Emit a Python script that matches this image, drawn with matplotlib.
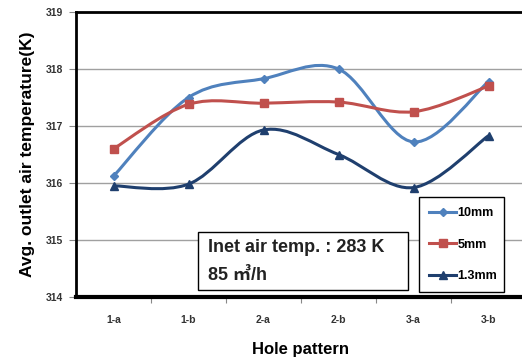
"""Avg. outlet air temperature by hole pattern."""

import matplotlib.pyplot as plt
import numpy as np
from matplotlib.lines import Line2D
from matplotlib.patches import PathPatch, Rectangle
from matplotlib.path import Path

patterns = ["1-a", "1-b", "2-a", "2-b", "3-a", "3-b"]
temp_10mm = [316.12, 317.50, 317.83, 318.00, 316.72, 317.78]
temp_5mm = [316.60, 317.38, 317.40, 317.42, 317.25, 317.70]
temp_1p3mm = [315.95, 315.98, 316.93, 316.50, 315.92, 316.83]

series = [
    ("10mm", temp_10mm, "#4f81bd", "D", 4),
    ("5mm", temp_5mm, "#c0504d", "s", 6),
    ("1.3mm", temp_1p3mm, "#1f3f6e", "^", 6),
]

plt.rcParams["font.family"] = ["Liberation Sans", "Noto Sans CJK KR", "DejaVu Sans"]


def smooth_path(xs, ys):
    # Excel-style smoothed line: Catmull-Rom as cubic bezier segments
    pts = np.column_stack([xs, ys]).astype(float)
    padded = np.vstack([pts[0], pts, pts[-1]])
    verts = [pts[0]]
    codes = [Path.MOVETO]
    for i in range(len(pts) - 1):
        p0, p1, p2, p3 = padded[i], padded[i + 1], padded[i + 2], padded[i + 3]
        verts += [p1 + (p2 - p0) / 6, p2 - (p3 - p1) / 6, p2]
        codes += [Path.CURVE4] * 3
    return Path(verts, codes)


fig = plt.figure(figsize=(5.22, 3.57), dpi=100)
ax = fig.add_axes([76 / 522, 60 / 357, 450 / 522, 285 / 357])

x = np.arange(len(patterns))
for label, vals, color, marker, ms in series:
    ax.add_patch(PathPatch(smooth_path(x, vals), fill=False, edgecolor=color,
                           lw=2.2, transform=ax.transData, zorder=3))
    ax.plot(x, vals, ls="none", marker=marker, ms=ms, color=color, zorder=4)

ax.set_xlim(-0.5, len(patterns) - 0.5)
ax.set_ylim(314, 319)
ax.set_yticks([314, 315, 316, 317, 318, 319])
ax.set_yticklabels(["314", "315", "316", "317", "318", "319"],
                   fontsize=7.5, fontweight="bold", color="#333333")
ax.set_xticks(x)
ax.set_xticklabels(patterns, fontsize=7.5, fontweight="bold", color="#333333")
ax.set_xticks(x[:-1] + 0.5, minor=True)
ax.tick_params(axis="x", which="major", length=0, pad=13)
ax.tick_params(axis="x", which="minor", length=4, width=0.8, color="#888888")
ax.tick_params(axis="y", length=5, width=0.8, color="#888888", pad=4)

for yv in [315, 316, 317, 318]:
    ax.axhline(yv, color="#a0a0a0", lw=1, zorder=1)

ax.spines["left"].set_linewidth(2)
ax.spines["bottom"].set_linewidth(3)
ax.spines["top"].set_linewidth(2)
ax.spines["right"].set_visible(False)
for s in ["left", "bottom", "top"]:
    ax.spines[s].set_color("black")

ax.set_ylabel("Avg. outlet air temperature(K)", fontsize=12.5, fontweight="bold",
              labelpad=8)
ax.set_xlabel("Hole pattern", fontsize=12, fontweight="bold", labelpad=12)

# note box
ax.add_patch(Rectangle((0.271, 0.0246), 0.467, 0.2035, transform=ax.transAxes,
                       fill=True, facecolor="white", edgecolor="black", lw=1, zorder=5))
ax.text(0.293, 0.172, "Inet air temp. : 283 K", transform=ax.transAxes,
        fontsize=13, fontweight="bold", va="center", ha="left", zorder=6,
        color="#222222")
ax.text(0.293, 0.075, "85 ㎥/h", transform=ax.transAxes,
        fontsize=13, fontweight="bold", va="center", ha="left", zorder=6,
        color="#222222")

handles = [Line2D([], [], color=c, marker=m, ms=ms, lw=2.2) for _, _, c, m, ms in series]
leg = ax.legend(handles, [s[0] for s in series], loc="lower left",
                bbox_to_anchor=(0.762, 0.0175, 0.188, 0.33), mode="expand",
                fancybox=False, edgecolor="black", framealpha=1,
                prop={"size": 9, "weight": "bold"}, labelspacing=1.55,
                handlelength=2.2, handletextpad=0.1, borderpad=0.8,
                borderaxespad=0)
leg.get_frame().set_linewidth(1)
leg.set_zorder(6)

fig.savefig("out.png", dpi=100)
